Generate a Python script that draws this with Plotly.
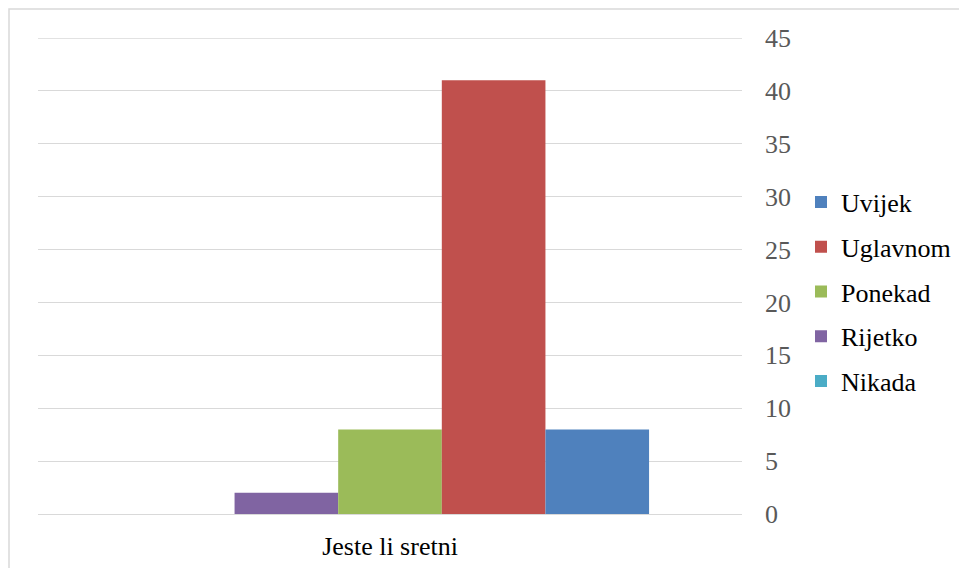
import plotly.graph_objects as go

# data
question = ["Jeste li sretni"]
answers = ["Nikada", "Rijetko", "Ponekad", "Uglavnom", "Uvijek"]
counts = [0, 2, 8, 41, 8]
colors = ["#4BACC6", "#8064A2", "#9BBB59", "#C0504D", "#4F81BD"]
y_ticks = [0, 5, 10, 15, 20, 25, 30, 35, 40, 45]

# page body has an 8px margin, so the figure is a bit smaller
W, H = 959, 560
L, R, T, B = 30, 225, 30, 54
pw, ph = W - L - R, H - T - B
serif = "Liberation Serif"

fig = go.Figure()
for i, (name, val, col) in enumerate(zip(answers, counts, colors)):
    fig.add_trace(go.Bar(
        x=question, y=[val], name=name, marker_color=col,
        marker_line_width=0, legendgroup=name, legendrank=10 - i,
    ))

# outer chart border (Excel style)
fig.add_shape(
    type="rect", xref="paper", yref="paper",
    x0=(1 - L) / pw, x1=(W + 20 - L) / pw,
    y0=-(B + 20) / ph, y1=(H - B - 1) / ph,
    line=dict(color="#d9d9d9", width=1.5), fillcolor="rgba(0,0,0,0)", layer="below",
)
# top gridline (plotly skips the one sitting on the plot edge)
fig.add_shape(
    type="line", xref="paper", yref="y", x0=0, x1=1,
    y0=y_ticks[-1], y1=y_ticks[-1],
    line=dict(color="#d9d9d9", width=1.4), layer="below",
)

fig.update_layout(
    width=W, height=H,
    margin=dict(l=L, r=R, t=T, b=B),
    paper_bgcolor="white", plot_bgcolor="white",
    barmode="group", bargap=0.264, bargroupgap=0,
    font=dict(family=serif, size=26, color="#000000"),
    legend=dict(
        xref="container", yref="container",
        x=793 / W, xanchor="left",
        y=1 - 284 / H, yanchor="middle",
        traceorder="grouped", tracegroupgap=8,
        font=dict(family=serif, size=26, color="#000000"),
        bgcolor="rgba(0,0,0,0)",
    ),
    xaxis=dict(
        showgrid=False, showline=False, ticks="", ticklabelstandoff=14,
        automargin=False,
        tickfont=dict(family=serif, size=26, color="#000000"),
    ),
    yaxis=dict(
        side="right", range=[0, 45], tickvals=y_ticks,
        showgrid=True, gridcolor="#d9d9d9", gridwidth=1.4,
        zeroline=True, zerolinecolor="#d9d9d9", zerolinewidth=1.4,
        showline=False, ticks="", ticklabelstandoff=22, automargin=False,
        tickfont=dict(family=serif, size=26, color="#595959"),
    ),
)

fig.write_html("out.html")
